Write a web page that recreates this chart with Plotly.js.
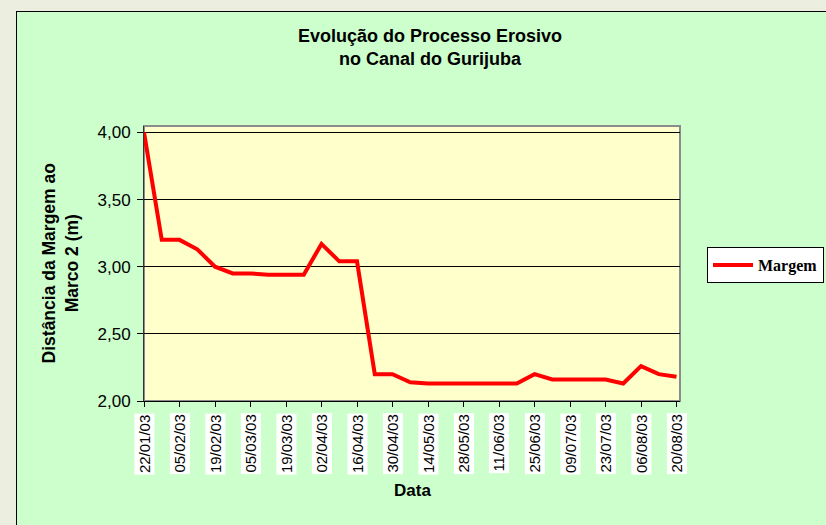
<!DOCTYPE html>
<html>
<head>
<meta charset="utf-8">
<script src="https://cdn.plot.ly/plotly-3.0.1.min.js"></script>
<style>
  html, body { margin:0; padding:0; width:826px; height:525px; overflow:hidden; background:#ECEEE0; }
  #frame { position:absolute; left:16px; top:11px; width:900px; height:600px; border:1px solid #000; background:#CCFFCC; }
  #chart { position:absolute; left:0; top:0; width:826px; height:525px; }
</style>
</head>
<body>
<div id="frame"></div>
<div id="chart"></div>
<script>
// Data
const dates = [
  "2003-01-22","2003-01-29","2003-02-05","2003-02-12","2003-02-19","2003-02-26",
  "2003-03-05","2003-03-12","2003-03-19","2003-03-26","2003-04-02","2003-04-09",
  "2003-04-16","2003-04-23","2003-04-30","2003-05-07","2003-05-14","2003-05-21",
  "2003-05-28","2003-06-04","2003-06-11","2003-06-18","2003-06-25","2003-07-02",
  "2003-07-09","2003-07-16","2003-07-23","2003-07-30","2003-08-06","2003-08-13",
  "2003-08-20"
];
const margem = [
  4.00, 3.20, 3.20, 3.13, 3.00, 2.95,
  2.95, 2.94, 2.94, 2.94, 3.17, 3.04,
  3.04, 2.20, 2.20, 2.14, 2.13, 2.13,
  2.13, 2.13, 2.13, 2.13, 2.20, 2.16,
  2.16, 2.16, 2.16, 2.13, 2.26, 2.20,
  2.18
];
const tickDates = [
  "2003-01-22","2003-02-05","2003-02-19","2003-03-05","2003-03-19","2003-04-02",
  "2003-04-16","2003-04-30","2003-05-14","2003-05-28","2003-06-11","2003-06-25",
  "2003-07-09","2003-07-23","2003-08-06","2003-08-20"
];
const tickLabels = [
  "22/01/03","05/02/03","19/02/03","05/03/03","19/03/03","02/04/03",
  "16/04/03","30/04/03","14/05/03","28/05/03","11/06/03","25/06/03",
  "09/07/03","23/07/03","06/08/03","20/08/03"
];
const yTicks = [2.0, 2.5, 3.0, 3.5, 4.0];
const seriesName = "Margem";
const titleText = "Evolução do Processo Erosivo<br>no Canal do Gurijuba";
const xTitle = "Data";
const yTitle = "Distância da Margem ao<br>Marco 2 (m)";

const SANS = "Liberation Sans, Arial, sans-serif";

const trace = {
  x: dates, y: margem, type: "scatter", mode: "lines", name: seriesName,
  line: { color: "#FF0000", width: 4 }
};

const annotations = tickDates.map((d, i) => ({
  x: d, xref: "x", y: -0.044, yref: "paper",
  text: tickLabels[i], textangle: -90, showarrow: false,
  xanchor: "center", yanchor: "top",
  bgcolor: "#FFFFFF", borderpad: 1,
  font: { family: SANS, size: 15, color: "#000" }
}));
annotations.push({
  x: 0.5, xref: "paper", y: -0.325, yref: "paper", text: xTitle, showarrow: false,
  xanchor: "center", yanchor: "middle",
  font: { family: SANS, size: 17, color: "#000", weight: "bold" }
});
annotations.push({
  x: -0.155, xref: "paper", y: 0.5, yref: "paper", text: yTitle, showarrow: false,
  textangle: -90, xanchor: "center", yanchor: "middle",
  font: { family: SANS, size: 17.5, color: "#000", weight: "bold" }
});

const layout = {
  width: 826, height: 525,
  margin: { l: 144, r: 146, t: 126, b: 124, pad: 0 },
  paper_bgcolor: "rgba(0,0,0,0)",
  plot_bgcolor: "#FFFFCC",
  separators: ",.",
  title: {
    text: titleText, x: 430/826, xanchor: "center", y: 1 - 42/525, yanchor: "middle",
    font: { family: SANS, size: 18, color: "#000", weight: "bold" }
  },
  xaxis: {
    type: "date",
    range: ["2003-01-22", "2003-08-21 09:00"],
    tickmode: "array", tickvals: tickDates, showticklabels: false,
    ticks: "outside", ticklen: 5, tickcolor: "#000", tickwidth: 1,
    showgrid: false, zeroline: false,
    showline: true, linecolor: "#000", linewidth: 1
  },
  yaxis: {
    range: [2, 4.048],
    tickmode: "array", tickvals: yTicks, tickformat: ".2f",
    ticks: "outside", ticklen: 6, tickcolor: "#000", tickwidth: 1,
    ticklabelstandoff: 3,
    tickfont: { family: SANS, size: 17, color: "#000" },
    showgrid: true, gridcolor: "#000", gridwidth: 1,
    zeroline: false,
    showline: true, linecolor: "#333", linewidth: 1
  },
  shapes: [{
    type: "rect", xref: "paper", yref: "paper", x0: 0, x1: 1, y0: 0, y1: 1,
    line: { color: "#8C8C8C", width: 2 }, fillcolor: "rgba(0,0,0,0)", layer: "below"
  }],
  showlegend: true,
  legend: {
    xref: "container", yref: "container",
    x: 707/826, y: 1 - 247/525, xanchor: "left", yanchor: "top",
    bgcolor: "#FFFFFF", bordercolor: "#000", borderwidth: 1,
    itemwidth: 40,
    font: { family: "Liberation Serif, Times New Roman, serif", size: 16, color: "#000", weight: "bold" }
  },
  annotations: annotations
};

Plotly.newPlot("chart", [trace], layout, { displayModeBar: false, staticPlot: true });
</script>
</body>
</html>
